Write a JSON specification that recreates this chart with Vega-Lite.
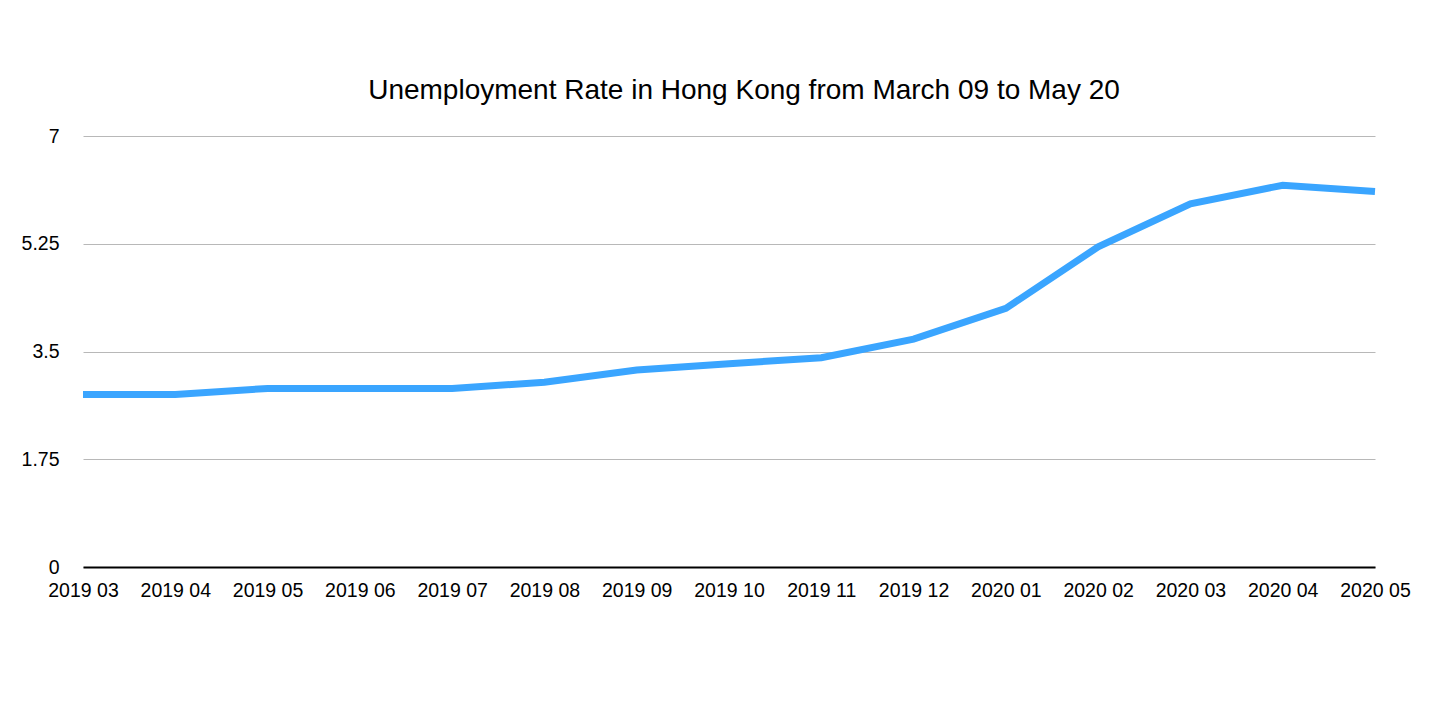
{
  "$schema": "https://vega.github.io/schema/vega-lite/v6.json",
  "autosize": {"type": "none"},
  "padding": {"left": 83, "top": 136, "right": 65, "bottom": 153},
  "width": 1292,
  "height": 431,
  "background": "white",
  "title": {
    "text": "Unemployment Rate in Hong Kong from March 09 to May 20",
    "font": "Liberation Sans",
    "fontSize": 28,
    "fontWeight": "normal",
    "color": "black",
    "anchor": "middle",
    "dx": 15,
    "offset": 21
  },
  "data": {
    "values": [
      {"month": "2019 03", "rate": 2.8},
      {"month": "2019 04", "rate": 2.8},
      {"month": "2019 05", "rate": 2.9},
      {"month": "2019 06", "rate": 2.9},
      {"month": "2019 07", "rate": 2.9},
      {"month": "2019 08", "rate": 3.0},
      {"month": "2019 09", "rate": 3.2},
      {"month": "2019 10", "rate": 3.3},
      {"month": "2019 11", "rate": 3.4},
      {"month": "2019 12", "rate": 3.7},
      {"month": "2020 01", "rate": 4.2},
      {"month": "2020 02", "rate": 5.2},
      {"month": "2020 03", "rate": 5.9},
      {"month": "2020 04", "rate": 6.2},
      {"month": "2020 05", "rate": 6.1}
    ]
  },
  "mark": {"type": "line", "color": "#3aa5ff", "strokeWidth": 7, "strokeJoin": "miter"},
  "encoding": {
    "x": {
      "field": "month",
      "type": "ordinal",
      "sort": null,
      "scale": {"type": "point", "padding": 0},
      "axis": {
        "title": null,
        "labelAngle": 0,
        "labelFont": "Liberation Sans",
        "labelFontSize": 19.5,
        "labelColor": "black",
        "labelPadding": 14,
        "labelOverlap": false,
        "labelBound": false,
        "domainColor": "black",
        "domainWidth": 2,
        "ticks": false,
        "grid": false
      }
    },
    "y": {
      "field": "rate",
      "type": "quantitative",
      "scale": {"domain": [0, 7], "nice": false, "zero": true},
      "axis": {
        "title": null,
        "values": [0, 1.75, 3.5, 5.25, 7],
        "format": ".2~f",
        "labelFont": "Liberation Sans",
        "labelFontSize": 19.5,
        "labelColor": "black",
        "labelPadding": 24,
        "labelBaseline": "middle",
        "domain": false,
        "ticks": false,
        "grid": true,
        "gridColor": "#b8b8b8",
        "gridWidth": 1
      }
    }
  },
  "config": {"view": {"stroke": null}}
}
